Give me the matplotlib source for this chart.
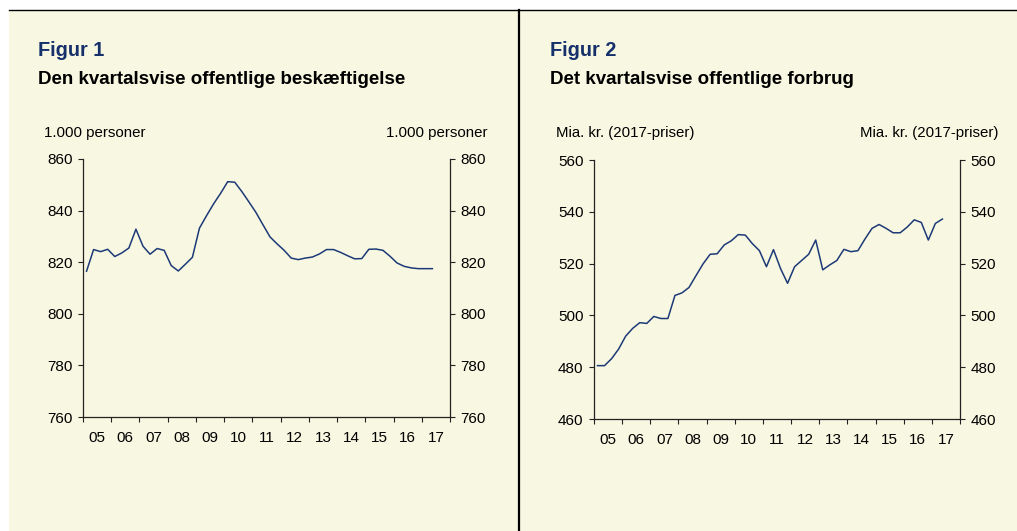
import numpy as np
import matplotlib
matplotlib.use('Agg')
import matplotlib.pyplot as plt
from matplotlib.patches import Rectangle
from matplotlib.lines import Line2D
from matplotlib.ticker import FixedLocator, NullFormatter

plt.rcParams['font.family'] = ['Liberation Sans', 'DejaVu Sans']

# kvartaler 2005K1 - 2017K2
years = ['05', '06', '07', '08', '09', '10', '11', '12', '13', '14', '15', '16', '17']

beskaeftigelse = [816.5, 824.9, 824.1, 825.0, 822.2, 823.6, 825.5, 832.8, 826.2, 823.1,
                  825.3, 824.6, 818.7, 816.6, 819.2, 821.9, 833.2, 838.0, 842.6, 846.7,
                  851.2, 851.0, 847.4, 843.4, 839.3, 834.5, 829.8, 827.1, 824.6, 821.6,
                  821.0, 821.6, 822.0, 823.2, 824.9, 824.9, 823.8, 822.5, 821.3, 821.4,
                  825.0, 825.1, 824.6, 822.3, 819.7, 818.4, 817.8, 817.5, 817.5, 817.5]

forbrug = [480.6, 480.6, 483.3, 487.0, 492.0, 495.0, 497.2, 496.9, 499.6, 498.8,
           498.8, 507.7, 508.7, 510.8, 515.4, 519.9, 523.6, 523.8, 527.2, 528.8,
           531.2, 531.0, 527.7, 525.0, 518.8, 525.4, 518.1, 512.4, 518.8, 521.2,
           523.6, 529.1, 517.6, 519.5, 521.2, 525.5, 524.6, 525.0, 529.5, 533.6,
           535.1, 533.6, 531.9, 531.9, 534.1, 536.9, 535.9, 529.1, 535.5, 537.2]

W, H = 1017, 531
bg = '#f8f7e1'
navy = '#1d3a78'
title_col = '#15306b'

fig = plt.figure(figsize=(W / 100, H / 100), dpi=100, facecolor='white')

# baggrund og rammer
fig.patches.append(Rectangle((9 / W, 0), 1 - 9 / W, 1 - 10 / H, transform=fig.transFigure,
                             facecolor=bg, edgecolor='none', zorder=-10))
fig.lines.append(Line2D([9 / W, 1], [1 - 10 / H, 1 - 10 / H], transform=fig.transFigure,
                        color='black', lw=1.0))
fig.lines.append(Line2D([519 / W, 519 / W], [0, 1 - 10 / H], transform=fig.transFigure,
                        color='black', lw=1.6))


def panel(rect, data, ylim, yticks, fig_no, subtitle, unit, x0, unit_right):
    ax = fig.add_axes(rect)
    ax.set_zorder(5)
    ax.set_facecolor('none')
    x = np.arange(len(data)) + 0.5
    ax.plot(x, data, color=navy, lw=1.1)
    ax.set_xlim(0, 52)
    ax.set_ylim(*ylim)
    ax.spines['top'].set_visible(False)
    for s in ['left', 'right', 'bottom']:
        ax.spines[s].set_linewidth(0.9)
        ax.spines[s].set_color('#222222')
    ax.yaxis.set_major_locator(FixedLocator(yticks))
    ax.tick_params(axis='y', which='major', left=True, right=True, labelleft=True,
                   labelright=True, direction='out', length=3.5, width=0.8,
                   labelsize=11, pad=4, color='#222222')
    ax.xaxis.set_major_locator(FixedLocator(np.arange(0, 53, 4)))
    ax.xaxis.set_major_formatter(NullFormatter())
    ax.xaxis.set_minor_locator(FixedLocator(np.arange(2, 52, 4)))
    ax.set_xticklabels(years, minor=True)
    ax.tick_params(axis='x', which='major', direction='out', length=3.5, width=0.8,
                   color='#222222')
    ax.tick_params(axis='x', which='minor', length=0, labelsize=11, pad=10)

    fig.text(x0 / W, 1 - 50 / H, fig_no, fontsize=14.3, fontweight='bold',
             color=title_col, va='center', ha='left')
    fig.text(x0 / W, 1 - 80 / H, subtitle, fontsize=13.5, fontweight='bold',
             color='black', va='center', ha='left')
    fig.text((x0 + 6) / W, 1 - 133 / H, unit, fontsize=10.8, va='center', ha='left')
    fig.text(unit_right / W, 1 - 133 / H, unit, fontsize=10.8, va='center', ha='right')
    return ax


panel([83 / W, 1 - 417 / H, 367 / W, 258 / H], beskaeftigelse, (760, 860),
      [760, 780, 800, 820, 840, 860], 'Figur 1',
      'Den kvartalsvise offentlige beskæftigelse', '1.000 personer', 38, 487)

panel([594 / W, 1 - 419 / H, 366 / W, 259 / H], forbrug, (460, 560),
      [460, 480, 500, 520, 540, 560], 'Figur 2',
      'Det kvartalsvise offentlige forbrug', 'Mia. kr. (2017-priser)', 550, 998)

fig.savefig('out.png', dpi=100, facecolor=fig.get_facecolor())
